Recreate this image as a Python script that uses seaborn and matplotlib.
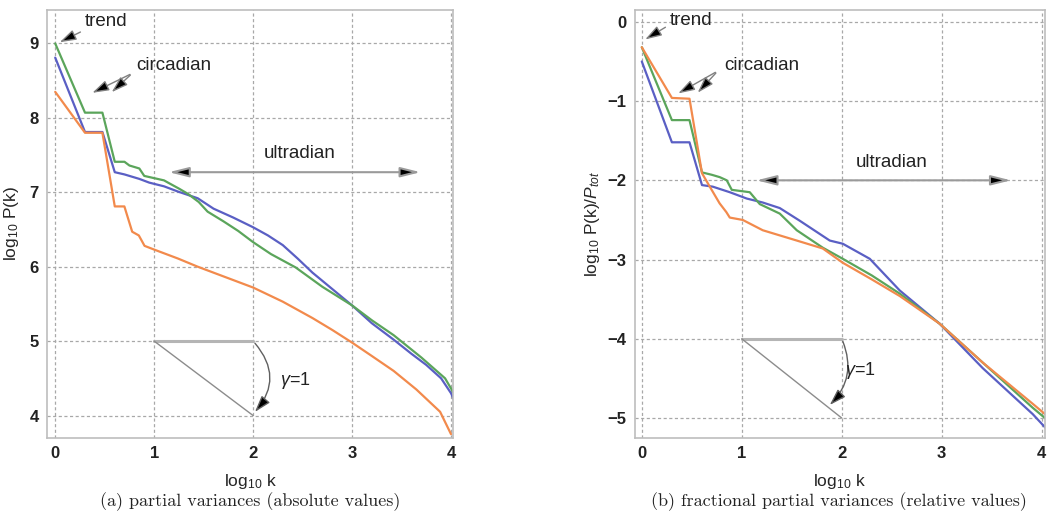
import numpy as np
import pandas as pd
import matplotlib
matplotlib.use("Agg")
import matplotlib.pyplot as plt
import seaborn as sns

# ---------------- data ----------------
# panel (a): log10 P(k) vs log10 k
a_blue_x = [0, 0.301, 0.477, 0.602, 0.70, 0.85, 0.95, 1.10, 1.24, 1.44, 1.60, 1.80, 2.00, 2.15, 2.30, 2.45, 2.60, 2.80, 3.00, 3.20, 3.42, 3.60, 3.75, 3.90, 4.00, 4.05]
a_blue_y = [8.81, 7.81, 7.81, 7.27, 7.24, 7.18, 7.13, 7.08, 7.01, 6.92, 6.78, 6.66, 6.53, 6.42, 6.29, 6.11, 5.92, 5.70, 5.48, 5.24, 5.02, 4.83, 4.68, 4.50, 4.30, 4.15]
a_green_x = [0, 0.301, 0.477, 0.602, 0.70, 0.75, 0.85, 0.90, 1.00, 1.10, 1.14, 1.25, 1.34, 1.45, 1.54, 1.70, 1.85, 2.00, 2.18, 2.43, 2.70, 3.00, 3.20, 3.42, 3.70, 3.94, 4.05]
a_green_y = [9.00, 8.07, 8.07, 7.41, 7.41, 7.36, 7.32, 7.22, 7.19, 7.16, 7.13, 7.05, 6.98, 6.87, 6.74, 6.61, 6.48, 6.33, 6.17, 5.99, 5.73, 5.48, 5.28, 5.08, 4.78, 4.50, 4.25]
a_orange_x = [0, 0.301, 0.477, 0.602, 0.699, 0.778, 0.845, 0.903, 1.00, 1.24, 1.44, 1.70, 2.00, 2.30, 2.60, 2.80, 3.00, 3.20, 3.42, 3.65, 3.89, 4.00]
a_orange_y = [8.35, 7.80, 7.80, 6.81, 6.81, 6.47, 6.42, 6.28, 6.23, 6.11, 6.00, 5.87, 5.72, 5.53, 5.31, 5.15, 4.98, 4.80, 4.60, 4.35, 4.05, 3.75]

# panel (b): log10 P(k)/P_tot vs log10 k
b_blue_x = [0, 0.301, 0.477, 0.602, 0.71, 0.88, 1.05, 1.21, 1.38, 1.58, 1.88, 2.01, 2.28, 2.58, 2.98, 3.41, 3.91, 4.08]
b_blue_y = [-0.50, -1.52, -1.52, -2.06, -2.08, -2.15, -2.23, -2.28, -2.35, -2.51, -2.76, -2.80, -2.99, -3.39, -3.81, -4.37, -4.95, -5.18]
b_green_x = [0, 0.301, 0.477, 0.602, 0.70, 0.78, 0.85, 0.90, 1.08, 1.18, 1.38, 1.55, 1.81, 2.01, 2.30, 2.58, 2.98, 3.41, 3.91, 4.08]
b_green_y = [-0.32, -1.24, -1.24, -1.90, -1.93, -1.96, -2.00, -2.12, -2.15, -2.30, -2.42, -2.63, -2.85, -2.99, -3.20, -3.43, -3.81, -4.30, -4.87, -5.05]
b_orange_x = [0, 0.301, 0.477, 0.602, 0.68, 0.778, 0.845, 0.88, 1.01, 1.21, 1.55, 1.81, 2.01, 2.30, 2.58, 2.98, 3.41, 3.91, 4.08]
b_orange_y = [-0.32, -0.96, -0.97, -1.91, -2.08, -2.29, -2.40, -2.47, -2.50, -2.63, -2.76, -2.86, -3.04, -3.25, -3.46, -3.81, -4.30, -4.82, -5.00]

x_ticks = [0, 1, 2, 3, 4]
a_yticks = [4, 5, 6, 7, 8, 9]
b_yticks = [-5, -4, -3, -2, -1, 0]

colors = {"blue": "#5a5fc4", "green": "#5ba55b", "orange": "#f28a4c"}

# ---------------- style ----------------
sns.set_style("white")
plt.rcParams["font.family"] = ["Liberation Sans", "DejaVu Sans"]
plt.rcParams["mathtext.fontset"] = "custom"
plt.rcParams["mathtext.rm"] = "Liberation Sans"
plt.rcParams["mathtext.it"] = "Liberation Sans:italic"
plt.rcParams["axes.unicode_minus"] = True
plt.rcParams["text.color"] = "#222222"

fig = plt.figure(figsize=(10.51, 5.25), dpi=100)
ax1 = fig.add_axes([0.045, 0.166, 0.386, 0.815])
ax2 = fig.add_axes([0.604, 0.166, 0.390, 0.815])


def make_df(bx, by, gx, gy, ox, oy):
    frames = []
    for name, xs, ys in (("blue", bx, by), ("green", gx, gy), ("orange", ox, oy)):
        frames.append(pd.DataFrame({"x": xs, "y": ys, "series": name}))
    return pd.concat(frames, ignore_index=True)


df_a = make_df(a_blue_x, a_blue_y, a_green_x, a_green_y, a_orange_x, a_orange_y)
df_b = make_df(b_blue_x, b_blue_y, b_green_x, b_green_y, b_orange_x, b_orange_y)

for ax, df in ((ax1, df_a), (ax2, df_b)):
    sns.lineplot(data=df, x="x", y="y", hue="series", palette=colors,
                 sort=False, estimator=None, legend=False, lw=1.6, ax=ax)
    ax.grid(True, ls=(0, (2.5, 2)), color="#a8a8a8", lw=0.9)
    for s in ax.spines.values():
        s.set_color("#bdbdbd")
        s.set_linewidth(1.2)
    ax.set_xticks(x_ticks)
    ax.tick_params(length=0, pad=6, labelsize=12, labelcolor="#222222")
    for lab in ax.get_xticklabels() + ax.get_yticklabels():
        lab.set_fontweight("bold")
    ax.set_xlabel(r"log$_{10}$ k", fontsize=12.5, labelpad=8)

ax1.set_xlim(-0.08, 4.02)
ax1.set_ylim(3.7, 9.45)
ax1.set_yticks(a_yticks)
ax1.set_ylabel(r"log$_{10}$ P(k)", fontsize=12.5, labelpad=6)

ax2.set_xlim(-0.07, 4.03)
ax2.set_ylim(-5.25, 0.15)
ax2.set_yticks(b_yticks)
ax2.set_ylabel(r"log$_{10}$ P(k)/$P_{tot}$", fontsize=12.5, labelpad=4)

arrow_kw = dict(arrowstyle="-|>,head_length=1.0,head_width=0.32", ec="#808080", fc="black", lw=1.0)
dbl_kw = dict(arrowstyle="<|-|>,head_length=1.2,head_width=0.3", ec="#9a9a9a", fc="black", lw=1.5)
gam_kw = dict(arrowstyle="-|>,head_length=1.0,head_width=0.32", ec="#606060", fc="black", lw=1.0)

# ---- panel (a) annotations ----
ax1.annotate("", xy=(0.02, 9.0), xytext=(0.28, 9.17), arrowprops=arrow_kw)
ax1.text(0.30, 9.3, "trend", fontsize=13.5, va="center", ha="left")
ax1.annotate("", xy=(0.35, 8.32), xytext=(0.78, 8.6), arrowprops=arrow_kw)
ax1.annotate("", xy=(0.55, 8.32), xytext=(0.78, 8.6), arrowprops=arrow_kw)
ax1.text(0.82, 8.71, "circadian", fontsize=13.5, va="center", ha="left")
ax1.annotate("", xy=(3.72, 7.27), xytext=(1.12, 7.27), arrowprops=dbl_kw)
ax1.text(2.47, 7.52, "ultradian", fontsize=13.5, va="center", ha="center")
ax1.plot([1, 2], [5, 5], color="#b5b5b5", lw=2.2)
ax1.plot([1, 2], [5, 4], color="#8c8c8c", lw=1.0)
ax1.annotate("", xy=(2.0, 4.02), xytext=(2.0, 5.0),
             arrowprops=dict(gam_kw, connectionstyle="arc3,rad=-0.45"))
ax1.text(2.27, 4.47, r"$\gamma$=1", fontsize=13, va="center", ha="left")

# ---- panel (b) annotations ----
ax2.annotate("", xy=(0.01, -0.24), xytext=(0.26, -0.05), arrowprops=arrow_kw)
ax2.text(0.28, 0.02, "trend", fontsize=13.5, va="center", ha="left")
ax2.annotate("", xy=(0.34, -0.92), xytext=(0.76, -0.62), arrowprops=arrow_kw)
ax2.annotate("", xy=(0.54, -0.92), xytext=(0.76, -0.62), arrowprops=arrow_kw)
ax2.text(0.82, -0.55, "circadian", fontsize=13.5, va="center", ha="left")
ax2.annotate("", xy=(3.72, -2.0), xytext=(1.12, -2.0), arrowprops=dbl_kw)
ax2.text(2.5, -1.77, "ultradian", fontsize=13.5, va="center", ha="center")
ax2.plot([1, 2], [-4, -4], color="#b5b5b5", lw=2.2)
ax2.plot([1, 2], [-4, -5], color="#8c8c8c", lw=1.0)
ax2.annotate("", xy=(1.86, -4.86), xytext=(2.0, -4.0),
             arrowprops=dict(gam_kw, connectionstyle="arc3,rad=-0.35"))
ax2.text(2.03, -4.4, r"$\gamma$=1", fontsize=13, va="center", ha="left")

# ---- captions ----
fig.text(0.238, 0.045, "(a) partial variances (absolute values)", family="cmr10",
         fontsize=13, ha="center", va="center")
fig.text(0.798, 0.045, "(b) fractional partial variances (relative values)", family="cmr10",
         fontsize=13, ha="center", va="center")

fig.savefig("out.png", dpi=100)
